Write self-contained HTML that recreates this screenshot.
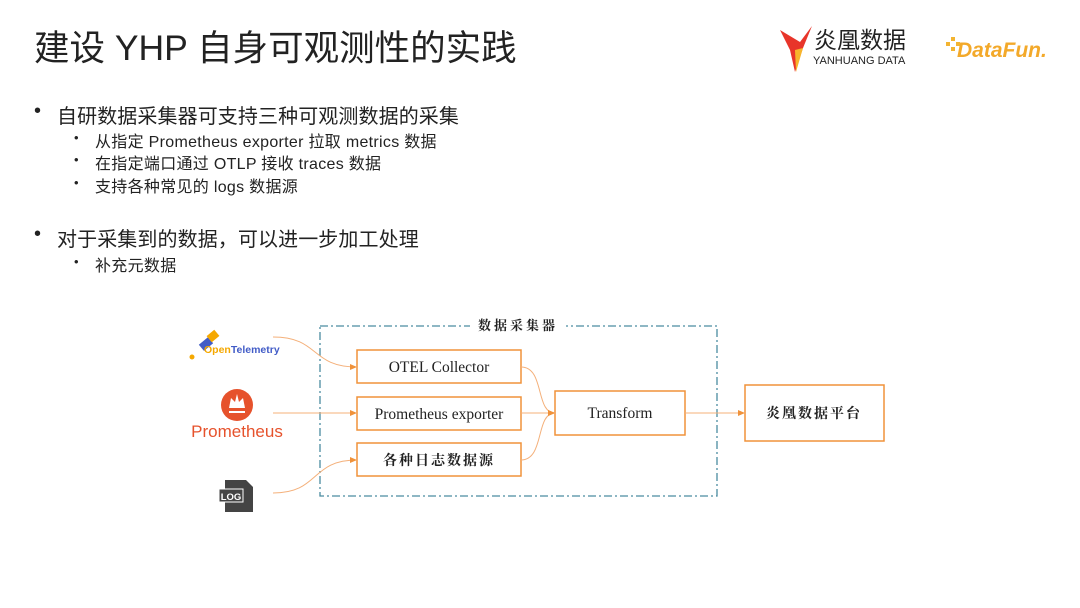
<!DOCTYPE html>
<html><head><meta charset="utf-8"><style>
body{margin:0;width:1080px;height:608px;background:#fff;position:relative;overflow:hidden;font-family:"Liberation Sans","Noto Sans CJK SC",sans-serif;color:#222}
.a{position:absolute;white-space:nowrap}
.t{font-size:35.5px;left:34px;top:20px;color:#222}
.l1{font-size:20px;left:57px;letter-spacing:0.1px}
.l2{font-size:16px;left:95px;letter-spacing:0.3px}
.b1{font-size:20px;left:34px}
.b2{font-size:13px;left:74px}
</style></head><body>
<div class="a t">建设 YHP 自身可观测性的实践</div>
<div class="a b1" style="top:100px">•</div><div class="a l1" style="top:100px">自研数据采集器可支持三种可观测数据的采集</div>
<div class="a b2" style="top:130px">•</div><div class="a l2" style="top:128px">从指定 Prometheus exporter 拉取 metrics 数据</div>
<div class="a b2" style="top:152px">•</div><div class="a l2" style="top:150px">在指定端口通过 OTLP 接收 traces 数据</div>
<div class="a b2" style="top:175px">•</div><div class="a l2" style="top:173px">支持各种常见的 logs 数据源</div>
<div class="a b1" style="top:223px">•</div><div class="a l1" style="top:223px">对于采集到的数据，可以进一步加工处理</div>
<div class="a b2" style="top:254px">•</div><div class="a l2" style="top:252px">补充元数据</div>

<svg class="a" style="left:0;top:0" width="1080" height="608">
<defs><marker id="m" markerWidth="8" markerHeight="8" refX="7" refY="4" orient="auto" markerUnits="userSpaceOnUse"><path d="M0,1 L7,4 L0,7z" fill="#f0923a"/></marker></defs>
<path d="M780,30 L800,42 L812,26 L803,48 L795,72 L790,50 Z" fill="#e8352a"/>
<path d="M795,50 L803,48 L796,72 Z" fill="#f7b52c"/>
<text x="814" y="48" font-size="23" fill="#222" font-family="Noto Sans CJK SC">炎凰数据</text>
<text x="813" y="64" font-size="11" fill="#222">YANHUANG DATA</text>
<g fill="#f3b431"><rect x="946" y="42" width="4" height="4"/><rect x="951" y="37" width="4" height="4"/><rect x="951" y="47" width="4" height="4"/><rect x="956" y="42" width="4" height="4"/></g>
<text x="957" y="57" font-size="21" font-weight="bold" font-style="italic" fill="#f3a92a">DataFun.</text>
<rect x="320" y="326" width="397" height="170" fill="none" stroke="#4a8ca0" stroke-width="1.3" stroke-dasharray="8,3,2,3"/>
<rect x="470" y="318" width="96" height="16" fill="#fff"/>
<text x="518" y="330" font-size="13" font-weight="bold" text-anchor="middle" letter-spacing="3" font-family="Noto Serif CJK SC" fill="#222">数据采集器</text>
<g fill="#fff" stroke="#f0923a" stroke-width="1.5">
<rect x="357" y="350" width="164" height="33"/>
<rect x="357" y="397" width="164" height="33"/>
<rect x="357" y="443" width="164" height="33"/>
<rect x="555" y="391" width="130" height="44"/>
<rect x="745" y="385" width="139" height="56"/>
</g>
<g font-family="Liberation Serif,Noto Serif CJK SC,serif" font-size="15.5" text-anchor="middle" fill="#222">
<text x="439" y="372">OTEL Collector</text>
<text x="439" y="419">Prometheus exporter</text>
<text x="439" y="465" font-family="Noto Serif CJK SC" font-weight="bold" font-size="14" letter-spacing="2">各种日志数据源</text>
<text x="620" y="418">Transform</text>
<text x="814" y="418" font-family="Noto Serif CJK SC" font-weight="bold" font-size="14" letter-spacing="2">炎凰数据平台</text>
</g>
<g fill="none" stroke="#f4b07a" stroke-width="1">
<path d="M273,337 C320,337 310,367 357,367" marker-end="url(#m)"/>
<path d="M273,413 L357,413" marker-end="url(#m)"/>
<path d="M273,493 C320,493 310,460 357,460" marker-end="url(#m)"/>
<path d="M521,367 C545,367 535,413 555,413" marker-end="url(#m)"/>
<path d="M521,413 L555,413" marker-end="url(#m)"/>
<path d="M521,460 C545,460 535,413 555,413" marker-end="url(#m)"/>
<path d="M685,413 L745,413" marker-end="url(#m)"/>
</g>
<rect x="200" y="340" width="12" height="8" fill="#425cc7" transform="rotate(-40 206 344)"/>
<rect x="208" y="332" width="10" height="8" fill="#f5a800" transform="rotate(-40 213 336)"/>
<circle cx="192" cy="357" r="2.5" fill="#f5a800"/>
<text x="204" y="353" font-size="10.5" font-weight="bold" fill="#425cc7"><tspan fill="#f5a800">Open</tspan>Telemetry</text>
<circle cx="237" cy="405" r="16" fill="#e6522c"/>
<path d="M229,408 L245,408 L243,398 L239,402 L237,394 L235,402 L231,398 Z" fill="#fff"/>
<rect x="229" y="411" width="16" height="2" fill="#fff"/>
<text x="237" y="437" font-size="17" fill="#e6522c" text-anchor="middle">Prometheus</text>
<path d="M225,480 L246,480 L253,487 L253,512 L225,512 Z" fill="#444"/>
<rect x="219" y="489" width="24" height="13" fill="#444" stroke="#fff" stroke-width="1"/>
<text x="231" y="500" font-size="9.5" font-weight="bold" fill="#fff" text-anchor="middle">LOG</text>
</svg>
</body></html>
